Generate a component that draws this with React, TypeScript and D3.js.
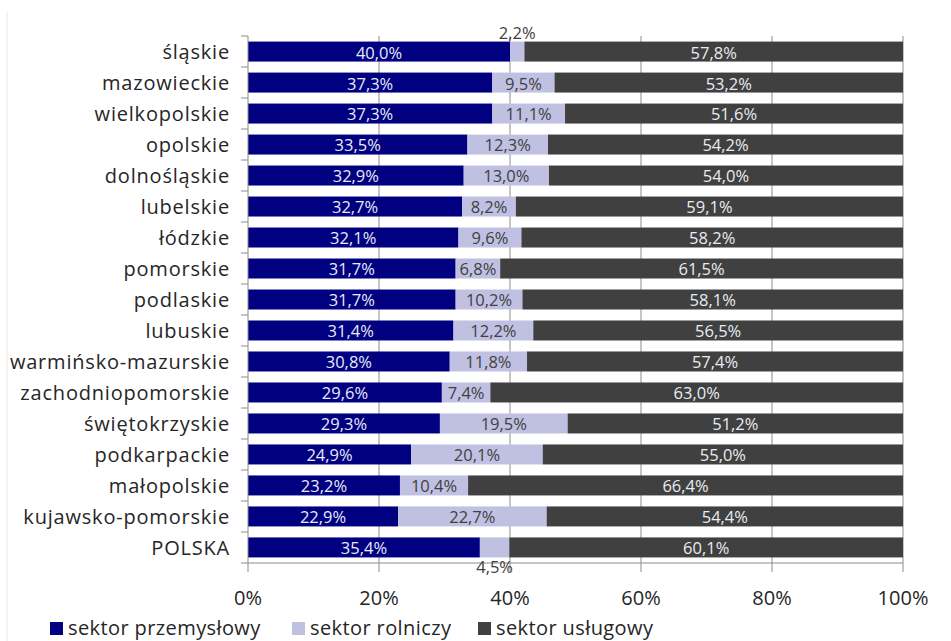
import React from "react";
import * as d3 from "d3";

const categories = [
  "śląskie", "mazowieckie", "wielkopolskie", "opolskie", "dolnośląskie", "lubelskie",
  "łódzkie", "pomorskie", "podlaskie", "lubuskie", "warmińsko-mazurskie",
  "zachodniopomorskie", "świętokrzyskie", "podkarpackie", "małopolskie",
  "kujawsko-pomorskie", "POLSKA",
];
const przemyslowy = [40.0, 37.3, 37.3, 33.5, 32.9, 32.7, 32.1, 31.7, 31.7, 31.4, 30.8, 29.6, 29.3, 24.9, 23.2, 22.9, 35.4];
const rolniczy = [2.2, 9.5, 11.1, 12.3, 13.0, 8.2, 9.6, 6.8, 10.2, 12.2, 11.8, 7.4, 19.5, 20.1, 10.4, 22.7, 4.5];
const uslugowy = [57.8, 53.2, 51.6, 54.2, 54.0, 59.1, 58.2, 61.5, 58.1, 56.5, 57.4, 63.0, 51.2, 55.0, 66.4, 54.4, 60.1];
const seriesNames = ["sektor przemysłowy", "sektor rolniczy", "sektor usługowy"];
const seriesColors = ["#000080", "#c0c0e2", "#404040"];
const labelColors = ["#e8eaf6", "#404040", "#e8ecf0"];
const xTicks = [0, 0.2, 0.4, 0.6, 0.8, 1.0];

const W = 951, H = 641;
const left = 248, right = 903, top = 36, bottom = 563;
const FONT = "'Open Sans', 'Noto Sans', sans-serif";

export default function App() {
  const x = d3.scaleLinear().domain([0, 1]).range([left, right]);
  const y = d3.scaleBand().domain(categories).range([top, bottom]).paddingInner(0.355).paddingOuter(0.18);
  const rows = categories.map((c, i) => {
    const vals = [przemyslowy[i], rolniczy[i], uslugowy[i]];
    const sum = d3.sum(vals);
    let acc = 0;
    return vals.map((v, k) => {
      const x0 = acc / sum;
      acc += v;
      return { c, k, v, x0, x1: acc / sum };
    });
  });
  const fmt = (v: number) => v.toFixed(1).replace(".", ",") + "%";
  const catStep = (bottom - top) / categories.length;

  return (
    <svg width={W} height={H} style={{ position: "absolute", left: 0, top: 0, background: "#fff" }}>
      <line x1={7} x2={7} y1={12} y2={641} stroke="#e6e6e6" />
      {/* gridlines */}
      {xTicks.slice(1).map((t) => (
        <line key={t} x1={x(t)} x2={x(t)} y1={top} y2={bottom + 9} stroke="#8c8c8c" strokeWidth={1} />
      ))}
      {/* bars */}
      {rows.map((segs, i) =>
        segs.map((s) => (
          <rect key={i + "-" + s.k} x={x(s.x0)} y={y(s.c)} width={x(s.x1) - x(s.x0)} height={y.bandwidth()} fill={seriesColors[s.k]} />
        ))
      )}
      {/* axes */}
      <line x1={left} x2={left} y1={top} y2={bottom + 9} stroke="#8c8c8c" />
      <line x1={left} x2={right} y1={bottom} y2={bottom} stroke="#8c8c8c" />
      {d3.range(categories.length + 1).map((j) => (
        <line key={j} x1={left - 7} x2={left} y1={top + j * catStep} y2={top + j * catStep} stroke="#8c8c8c" />
      ))}
      {/* category labels */}
      {categories.map((c) => (
        <text key={c} x={left - 18} y={(y(c) as number) + y.bandwidth() / 2} dy="0.36em" textAnchor="end" fontFamily={FONT} fontSize={20} letterSpacing={0.8} fill="#262626">
          {c}
        </text>
      ))}
      {/* data labels */}
      {rows.map((segs, i) =>
        segs.map((s) => {
          const small = s.k === 1 && s.v < 5;
          const cx = (x(s.x0) + x(s.x1)) / 2;
          let cy = (y(s.c) as number) + y.bandwidth() / 2 + 1;
          if (small) cy = i === 0 ? (y(s.c) as number) - 9 : (y(s.c) as number) + y.bandwidth() + 10;
          return (
            <text key={"l" + i + "-" + s.k} x={cx} y={cy} dy="0.36em" textAnchor="middle" fontFamily={FONT} fontSize={16.5} fill={small ? "#404040" : labelColors[s.k]}>
              {fmt(s.v)}
            </text>
          );
        })
      )}
      {/* x tick labels */}
      {xTicks.map((t) => (
        <text key={"t" + t} x={x(t)} y={598} dy="0.36em" textAnchor="middle" fontFamily={FONT} fontSize={20} fill="#262626">
          {Math.round(t * 100) + "%"}
        </text>
      ))}
      {/* legend */}
      {seriesNames.map((n, k) => {
        const lx = [50, 292, 478][k];
        return (
          <g key={n}>
            <rect x={lx} y={622} width={13} height={13} fill={seriesColors[k]} />
            <text x={lx + 18} y={628} dy="0.36em" fontFamily={FONT} fontSize={20} letterSpacing={0.4} fill="#262626">{n}</text>
          </g>
        );
      })}
    </svg>
  );
}
